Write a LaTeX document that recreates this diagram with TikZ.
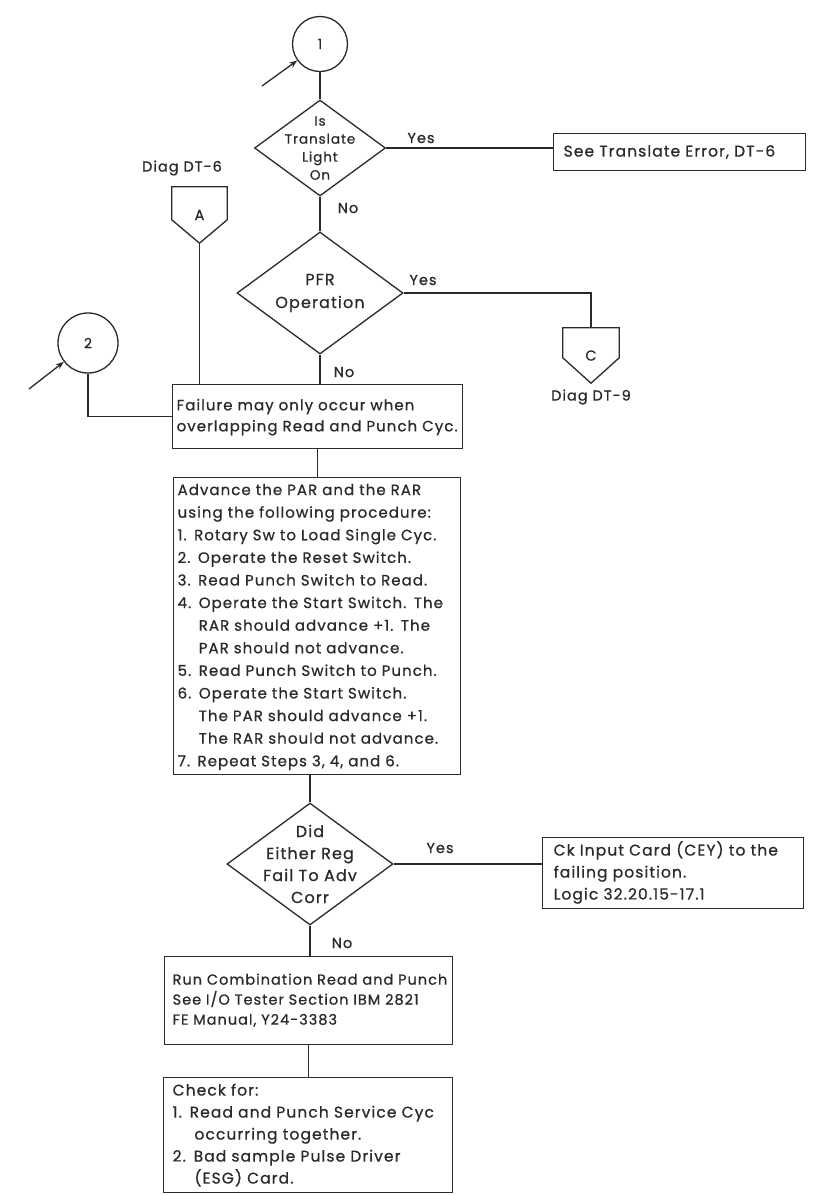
\documentclass[tikz,border=0pt]{standalone}
\usepackage{fontspec}
\setmainfont{Poppins}[LetterSpace=7,FakeBold=0.7]
\usetikzlibrary{shapes.geometric,arrows.meta,calc}
\definecolor{ink}{HTML}{2A2A2A}
\newcommand{\bodyfont}{\fontsize{15.5}{22}\selectfont}
\newcommand{\hang}{\phantom{4. }}
\begin{document}
\begin{tikzpicture}[x=1pt,y=-1pt,
  line/.style={draw=ink,line width=1.3pt},
  entry/.style={line,-{Stealth[length=8pt,width=6pt]}},
  box/.style={draw=ink,line width=1.3pt,anchor=north west,inner ysep=0pt,
    align=left,text=ink,font=\bodyfont},
  circ/.style={circle,draw=ink,line width=1.3pt,inner sep=0pt,text=ink,
    font=\fontsize{14}{15}\selectfont},
  dia/.style={diamond,draw=ink,line width=1.3pt,inner sep=0pt},
  dlab/.style={align=center,text=ink,inner sep=0pt},
  lab/.style={text=ink,inner sep=0pt,font=\fontsize{14.5}{16}\selectfont},
  offpage/.style={inner sep=0pt,text=ink,font=\fontsize{14.5}{16}\selectfont},
]
\fill[white] (0,0) rectangle (831,1195);
\useasboundingbox (0,0) rectangle (831,1195);

% entry point 1 and first decision
\node[circ,minimum size=55pt] (c1) at (320,44) {1};
\coordinate (in1) at (262,86);
\draw[entry] (in1) -- (c1);

\node[dia,minimum width=131pt,minimum height=96pt,
  label={[dlab,font=\fontsize{13.5}{18}\selectfont]center:Is\\Translate\\Light\\On}] (d1) at (320,148) {};

\node[box,inner xsep=10pt,text width=232pt,minimum height=37pt] (box1) at (553,133)
  {\begin{tabular}{@{}l@{}}See Translate Error, DT-6\end{tabular}};

% second decision
\node[dia,minimum width=166pt,minimum height=122pt,
  label={[dlab,font=\fontsize{16}{23}\selectfont]center:PFR\\Operation}] (d2) at (320,293) {};

% off-page connectors
\node[offpage,minimum width=55pt,minimum height=56pt] (A) at (199.5,215) {A};
\draw[line] (A.north west) -- (A.north east) -- ($(A.north east)+(0,33)$)
  -- (A.south) -- ($(A.north west)+(0,33)$) -- cycle;
\node[lab] (diagA) at (182,168) {Diag DT-6};

\node[offpage,minimum width=56pt,minimum height=55pt] (C) at (591,355.5) {C};
\draw[line] (C.north west) -- (C.north east) -- ($(C.north east)+(0,30)$)
  -- (C.south) -- ($(C.north west)+(0,30)$) -- cycle;
\node[lab] (diagC) at (591,397) {Diag DT-9};

% entry point 2
\node[circ,minimum size=60pt] (c2) at (88,343) {2};
\coordinate (in2) at (29,389);
\draw[entry] (in2) -- (c2);

% process boxes
\node[box,inner xsep=4pt,text width=282pt,minimum height=64pt,
  font=\fontsize{15}{21}\selectfont] (fail) at (172,384)
  {\begin{tabular}{@{}l@{}}Failure may only occur when\\overlapping Read and Punch Cyc.\end{tabular}};

\node[box,inner xsep=4pt,text width=279pt,minimum height=297pt,
  font=\fontsize{15}{22.6}\selectfont] (big) at (173,477)
  {\begin{tabular}{@{}l@{}}
  Advance the PAR and the RAR\\
  using the following procedure:\\
  1. Rotary Sw to Load Single Cyc.\\
  2. Operate the Reset Switch.\\
  3. Read Punch Switch to Read.\\
  4. Operate the Start Switch. The\\
  \hang RAR should advance +1. The\\
  \hang PAR should not advance.\\
  5. Read Punch Switch to Punch.\\
  6. Operate the Start Switch.\\
  \hang The PAR should advance +1.\\
  \hang The RAR should not advance.\\
  7. Repeat Steps 3, 4, and 6.
  \end{tabular}};

% third decision
\node[dia,minimum width=166pt,minimum height=122pt,
  label={[dlab,font=\fontsize{16}{22}\selectfont]center:Did\\Either Reg\\Fail To Adv\\Corr}] (d3) at (310,864) {};

\node[box,inner xsep=11pt,text width=239pt,minimum height=71pt] (right) at (542,837)
  {\begin{tabular}{@{}l@{}}Ck Input Card (CEY) to the\\failing position.\\Logic 32.20.15-17.1\end{tabular}};

\node[box,inner xsep=8pt,text width=272pt,minimum height=88pt,
  font=\fontsize{14.5}{20}\selectfont] (run) at (164,956)
  {\begin{tabular}{@{}l@{}}Run Combination Read and Punch\\See I/O Tester Section IBM 2821\\FE Manual, Y24-3383\end{tabular}};

\node[box,inner xsep=9pt,text width=271pt,minimum height=115pt] (check) at (163,1077)
  {\begin{tabular}{@{}l@{}}Check for:\\
  1. Read and Punch Service Cyc\\
  \hang occurring together.\\
  2. Bad sample Pulse Driver\\
  \hang (ESG) Card.\end{tabular}};

% connectors
\draw[line] (c1.south) -- (d1.north);
\draw[line] (d1.east) -- (d1.east -| box1.west);
\node[lab] (yes1) at (421,138) {Yes};
\draw[line] (d1.south) -- (d2.north);
\node[lab] (no1) at (348,208) {No};

\draw[line] (d2.east) -- (d2.east -| C.north) -- (C.north);
\node[lab] (yes2) at (423,280) {Yes};
\draw[line] (d2.south) -- (d2.south |- fail.north);
\node[lab] (no2) at (344,372) {No};

\draw[line] (A.south) -- (A.south |- fail.north);
\draw[line] (c2.south) |- (fail.west);

\draw[line] (fail.south) -- (fail.south |- big.north);
\draw[line] (big.south -| d3.north) -- (d3.north);
\draw[line] (d3.east) -- (d3.east -| right.west);
\node[lab] (yes3) at (440,848) {Yes};
\draw[line] (d3.south) -- (d3.south |- run.north);
\node[lab] (no3) at (342,943) {No};
\draw[line] (run.south) -- (run.south |- check.north);
\end{tikzpicture}
\end{document}
